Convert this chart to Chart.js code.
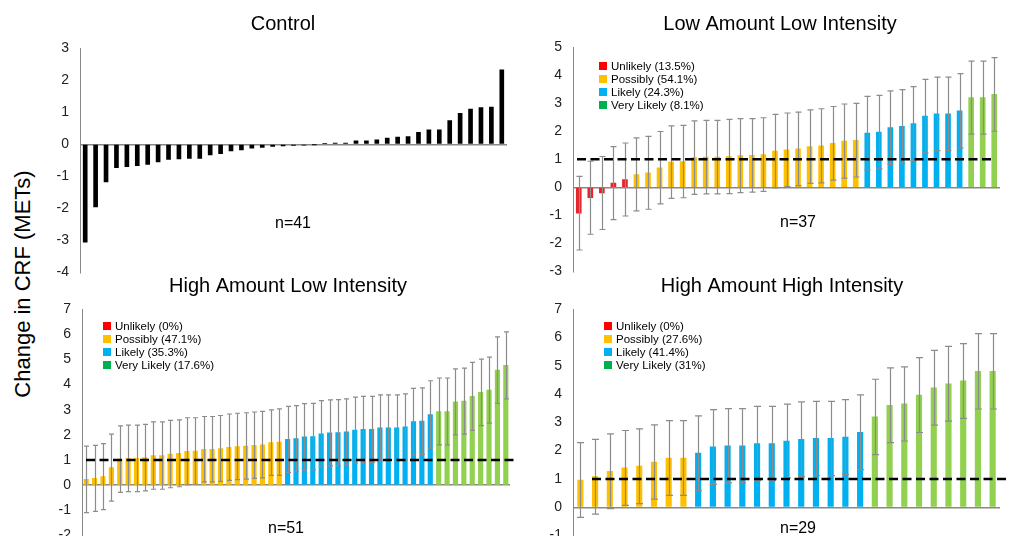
<!DOCTYPE html>
<html lang="en">
<head>
<meta charset="UTF-8">
<title>Change in CRF</title>
<script src="https://cdn.jsdelivr.net/npm/chart.js"></script>
<style>
    body { margin: 0; background: #fff; overflow: hidden; font-family: "Liberation Sans", Arial, sans-serif; }
    #wrap { position: relative; width: 1012px; height: 536px; overflow: hidden; }
    canvas { position: absolute; }
    #ylab { position: absolute; left: 23px; top: 284px; transform: translate(-50%, -50%) rotate(-90deg);
            white-space: nowrap; font-size: 22px; color: #000; }
</style>
</head>
<body>
<div id="wrap">
    <div id="ylab">Change in CRF (METs)</div>
    <canvas id="c1" width="520" height="292" style="left:0;top:0"></canvas>
    <canvas id="c2" width="497" height="291" style="left:515px;top:0"></canvas>
    <canvas id="c3" width="520" height="293" style="left:0;top:262px"></canvas>
    <canvas id="c4" width="497" height="293" style="left:515px;top:262px"></canvas>
</div>
<script>
// --- data ---
const groupNames = ['Unlikely', 'Possibly', 'Likely', 'Very Likely'];

const controlValues = [-3.05, -1.95, -1.17, -0.73, -0.70, -0.67, -0.63, -0.55, -0.47, -0.46,
    -0.44, -0.44, -0.33, -0.29, -0.21, -0.18, -0.12, -0.10, -0.07, -0.05,
    -0.04, -0.03, -0.01, 0.03, 0.04, 0.04, 0.11, 0.11, 0.14, 0.19,
    0.22, 0.24, 0.37, 0.45, 0.45, 0.74, 0.96, 1.10, 1.14, 1.16, 2.32];
const controlYRange = [-4, 3];

const lowLowValues = [-0.92, -0.37, -0.20, 0.15, 0.28, 0.46, 0.52, 0.70, 0.90, 0.92,
    1.06, 1.08, 1.08, 1.10, 1.13, 1.14, 1.17, 1.29, 1.34, 1.37,
    1.45, 1.48, 1.57, 1.65, 1.68, 1.93, 1.97, 2.13, 2.17, 2.27,
    2.54, 2.62, 2.62, 2.73, 3.20, 3.20, 3.31];
const lowLowErr = [1.31, 1.30, 1.30, 1.30, 1.30, 1.30, 1.30, 1.29, 1.29, 1.29,
    1.31, 1.31, 1.31, 1.32, 1.32, 1.31, 1.31, 1.31, 1.31, 1.31,
    1.31, 1.32, 1.31, 1.32, 1.31, 1.31, 1.31, 1.31, 1.31, 1.32,
    1.31, 1.31, 1.31, 1.32, 1.30, 1.30, 1.31];
const lowLowGroups = [5, 20, 9, 3];
const lowLowPct = ['13.5%', '54.1%', '24.3%', '8.1%'];
const lowLowYRange = [-3, 5];

const highLowValues = [0.23, 0.27, 0.34, 0.70, 1.04, 1.07, 1.07, 1.10, 1.18, 1.18,
    1.24, 1.27, 1.35, 1.36, 1.43, 1.43, 1.46, 1.51, 1.54, 1.56,
    1.59, 1.61, 1.69, 1.71, 1.82, 1.85, 1.92, 1.93, 2.04, 2.08,
    2.09, 2.12, 2.19, 2.22, 2.22, 2.28, 2.28, 2.28, 2.32, 2.53,
    2.55, 2.81, 2.93, 2.93, 3.31, 3.34, 3.53, 3.69, 3.78, 4.57, 4.76];
const highLowErr = [1.32, 1.31, 1.31, 1.33, 1.32, 1.32, 1.32, 1.32, 1.34, 1.34,
    1.34, 1.33, 1.33, 1.32, 1.30, 1.30, 1.31, 1.32, 1.32, 1.32,
    1.32, 1.32, 1.30, 1.32, 1.31, 1.31, 1.32, 1.32, 1.32, 1.31,
    1.31, 1.31, 1.31, 1.31, 1.31, 1.31, 1.31, 1.31, 1.31, 1.32,
    1.32, 1.34, 1.33, 1.33, 1.31, 1.31, 1.35, 1.32, 1.31, 1.32, 1.33];
const highLowGroups = [0, 24, 18, 9];
const highLowPct = ['0%', '47.1%', '35.3%', '17.6%'];
const highLowYRange = [-2, 7];

const highHighValues = [0.96, 1.08, 1.27, 1.39, 1.45, 1.60, 1.74, 1.74,
    1.91, 2.13, 2.17, 2.17, 2.25, 2.25, 2.34, 2.40, 2.43, 2.43, 2.48, 2.65,
    3.19, 3.60, 3.65, 3.96, 4.22, 4.36, 4.46, 4.80, 4.80];
const highHighErr = [1.32, 1.32, 1.32, 1.32, 1.32, 1.31, 1.32, 1.32,
    1.32, 1.32, 1.31, 1.31, 1.31, 1.31, 1.30, 1.32, 1.31, 1.31, 1.32, 1.32,
    1.33, 1.32, 1.31, 1.32, 1.32, 1.32, 1.32, 1.33, 1.33];
const highHighGroups = [0, 8, 12, 9];
const highHighPct = ['0%', '27.6%', '41.4%', '31%'];
const highHighYRange = [-1, 7];

const threshold = 1;

// --- styling ---
const FONT = '"Liberation Sans", Arial, sans-serif';
const barColors = ['#E8232A', '#FFC000', '#00B0F0', '#92D050'];
const legendColors = ['#FF0000', '#FFC000', '#00B0F0', '#00B050'];

function colorsFromGroups(groups) {
    const out = [];
    groups.forEach((n, g) => { for (let k = 0; k < n; k++) out.push(barColors[g]); });
    return out;
}

// error bars, dashed threshold line, titles, n= and the inset legends
const decor = {
    id: 'decor',
    afterDatasetsDraw(chart, args, o) {
        const { ctx, chartArea: a, scales: { x, y } } = chart;
        const vals = chart.data.datasets[0].data;
        if (o.err) {
            ctx.save();
            ctx.strokeStyle = '#8c8c8c';
            ctx.lineWidth = 1.2;
            o.err.forEach((e, i) => {
                const px = Math.round(x.getPixelForValue(i)) + 0.5;
                const top = y.getPixelForValue(vals[i] + e);
                const bot = y.getPixelForValue(vals[i] - e);
                ctx.beginPath();
                ctx.moveTo(px, top); ctx.lineTo(px, bot);
                ctx.moveTo(px - o.cap, top); ctx.lineTo(px + o.cap, top);
                ctx.moveTo(px - o.cap, bot); ctx.lineTo(px + o.cap, bot);
                ctx.stroke();
            });
            ctx.restore();
        }
        if (o.dash) {
            const py = y.getPixelForValue(threshold);
            ctx.save();
            ctx.strokeStyle = '#000';
            ctx.lineWidth = 2.6;
            ctx.setLineDash([9, 4.5]);
            ctx.beginPath();
            ctx.moveTo(a.left + o.dash[0], py);
            ctx.lineTo(a.right + o.dash[1], py);
            ctx.stroke();
            ctx.restore();
        }
    },
    afterDraw(chart, args, o) {
        const ctx = chart.ctx;
        ctx.save();
        ctx.fillStyle = '#000';
        ctx.textBaseline = 'alphabetic';
        ctx.textAlign = 'center';
        ctx.font = '20px ' + FONT;
        ctx.fillText(o.title, o.titleX, 30);
        ctx.font = '16px ' + FONT;
        ctx.fillText(o.n, o.nPos[0], o.nPos[1]);
        if (o.legend) {
            ctx.textAlign = 'left';
            ctx.textBaseline = 'middle';
            ctx.font = '11.5px ' + FONT;
            groupNames.forEach((name, g) => {
                const yy = o.legend[1] + g * 13;
                ctx.fillStyle = legendColors[g];
                ctx.fillRect(o.legend[0], yy - 4, 8, 8);
                ctx.fillStyle = '#000';
                ctx.fillText(name + ' (' + o.pct[g] + ')', o.legend[0] + 12, yy + 0.5);
            });
        }
        ctx.restore();
    }
};

function makePanel(id, values, colors, thickness, yRange, yWidth, padding, deco) {
    return new Chart(document.getElementById(id), {
        type: 'bar',
        data: {
            labels: values.map((v, i) => i),
            datasets: [{
                data: values,
                backgroundColor: colors,
                barThickness: thickness,
                borderWidth: 0
            }]
        },
        options: {
            responsive: false,
            animation: false,
            devicePixelRatio: 1,
            layout: { padding: padding },
            plugins: {
                legend: { display: false },
                tooltip: { enabled: false },
                title: { display: false },
                decor: deco
            },
            scales: {
                x: { type: 'category', display: false, offset: true },
                y: {
                    min: yRange[0], max: yRange[1],
                    afterFit: s => { s.width = yWidth; },
                    ticks: { stepSize: 1, padding: 11, color: '#222', font: { family: FONT, size: 14 } },
                    grid: {
                        drawTicks: false,
                        lineWidth: 1.5,
                        color: c => c.tick && c.tick.value === 0 ? '#888' : 'rgba(0,0,0,0)'
                    },
                    border: { display: true, color: '#888', width: 1 }
                }
            }
        },
        plugins: [decor]
    });
}

makePanel('c1', controlValues, '#000', 4, controlYRange, 80,
    { top: 48, bottom: 12, left: 0, right: 13 },
    { title: 'Control', titleX: 283, n: 'n=41', nPos: [293, 228] });

makePanel('c2', lowLowValues, colorsFromGroups(lowLowGroups), 5, lowLowYRange, 58,
    { top: 47, bottom: 12, left: 0, right: 12 },
    { title: 'Low Amount Low Intensity', titleX: 265, n: 'n=37', nPos: [283, 227],
      err: lowLowErr, cap: 3, dash: [4, -5], legend: [84, 66], pct: lowLowPct });

makePanel('c3', highLowValues, colorsFromGroups(highLowGroups), 4.5, highLowYRange, 82,
    { top: 47, bottom: 12, left: 0, right: 10 },
    { title: 'High Amount Low Intensity', titleX: 288, n: 'n=51', nPos: [286, 271],
      err: highLowErr, cap: 2.5, dash: [4, 8], legend: [103, 64], pct: highLowPct });

makePanel('c4', highHighValues, colorsFromGroups(highHighGroups), 5.5, highHighYRange, 58,
    { top: 47, bottom: 12, left: 0, right: 12 },
    { title: 'High Amount High Intensity', titleX: 267, n: 'n=29', nPos: [283, 271],
      err: highHighErr, cap: 3.5, dash: [19, 7], legend: [89, 64], pct: highHighPct });
</script>
</body>
</html>
